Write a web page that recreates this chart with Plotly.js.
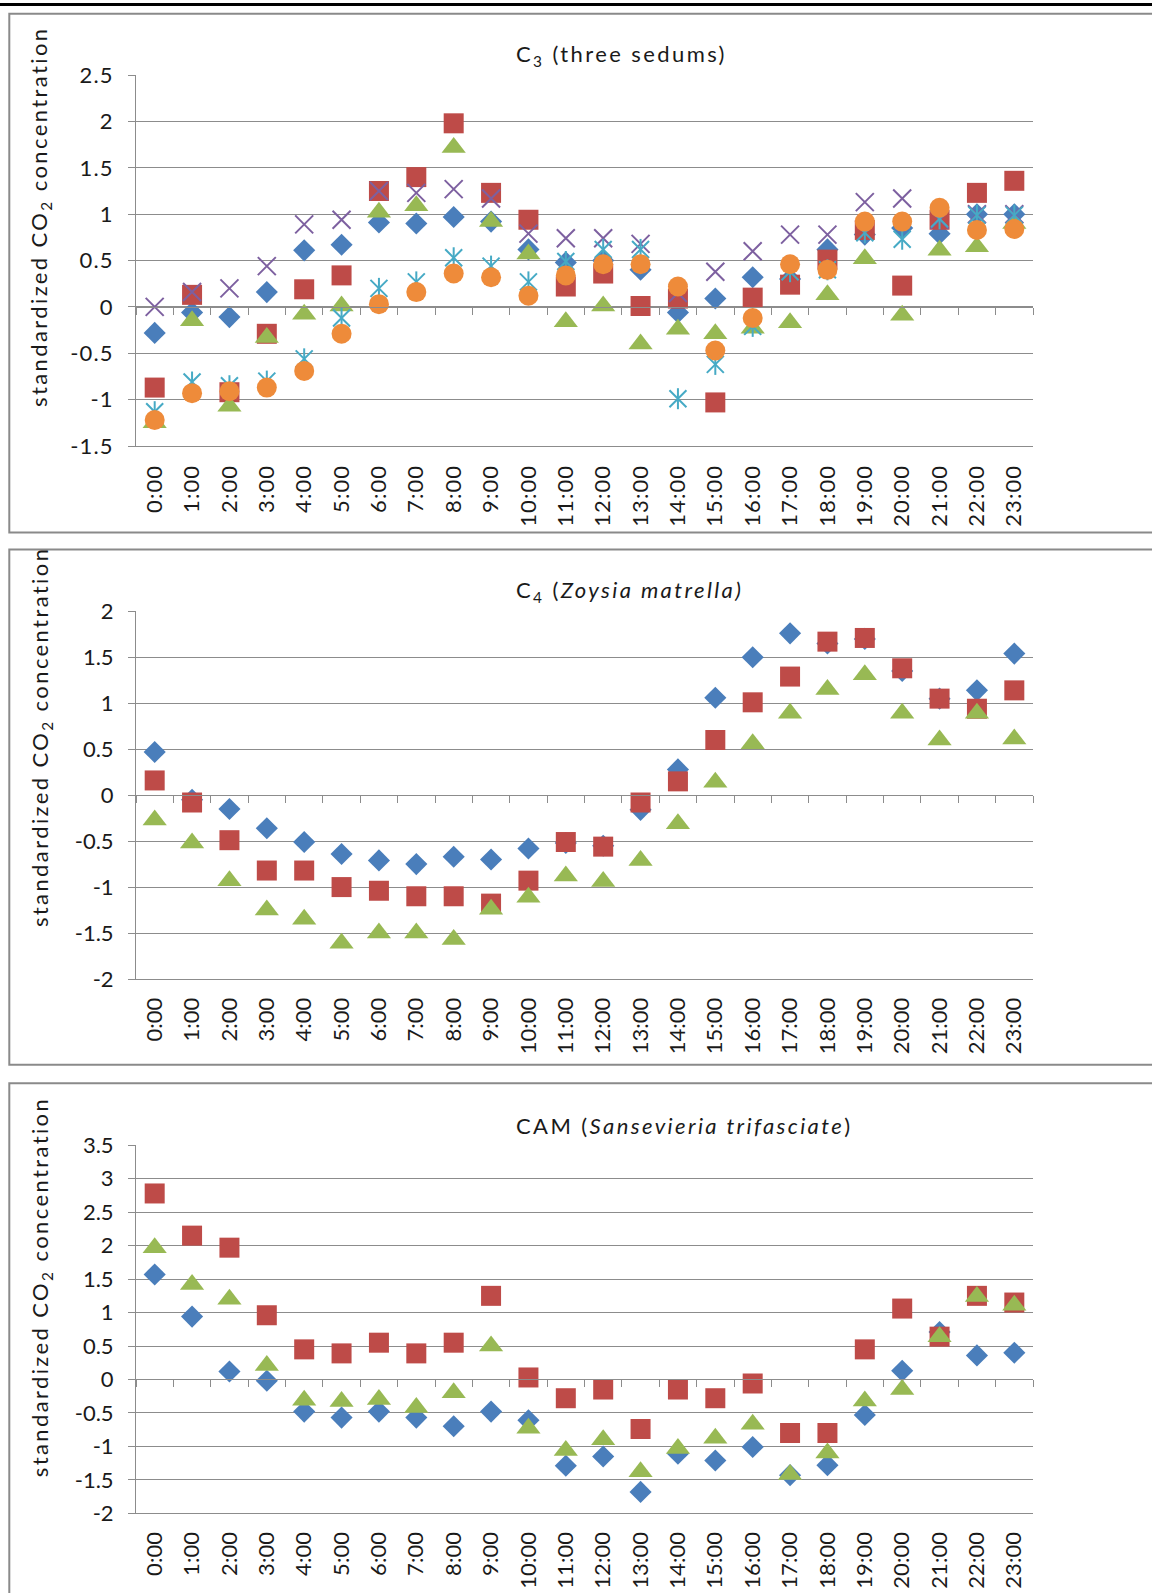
<!DOCTYPE html>
<html>
<head>
<meta charset="utf-8">
<script src="https://cdn.plot.ly/plotly-3.0.1.min.js"></script>
<style>
html,body{margin:0;padding:0;background:#ffffff;}
#chart{width:1152px;height:1593px;}
#chart g.xtick text, #chart g.ytick text{letter-spacing:1.1px;}
text.annotation-text{letter-spacing:2.4px;}
</style>
</head>
<body>
<div id="chart"></div>
<script>
// ---------- DATA ----------
const hours = ["0:00","1:00","2:00","3:00","4:00","5:00","6:00","7:00","8:00","9:00","10:00","11:00",
               "12:00","13:00","14:00","15:00","16:00","17:00","18:00","19:00","20:00","21:00","22:00","23:00"];

// C3 (three sedums) – six series
const c3Blue   = [-0.28,-0.06,-0.11,0.16,0.61,0.67,0.91,0.90,0.97,0.92,0.62,0.48,0.50,0.40,-0.06,0.09,0.32,0.30,0.62,0.78,0.85,0.79,1.00,1.00];
const c3Red    = [-0.87,0.13,-0.92,-0.29,0.19,0.34,1.25,1.40,1.98,1.23,0.94,0.22,0.36,0.01,0.09,-1.03,0.10,0.24,0.51,0.83,0.23,0.94,1.23,1.36];
const c3Green  = [-1.25,-0.15,-1.07,-0.33,-0.08,0.01,1.02,1.09,1.72,0.92,0.57,-0.16,0.01,-0.40,-0.24,-0.29,-0.23,-0.17,0.13,0.52,-0.09,0.61,0.65,0.90];
const c3Purple = [0.00,0.16,0.20,0.44,0.89,0.94,1.25,1.23,1.27,1.17,0.79,0.74,0.74,0.68,0.15,0.38,0.60,0.78,0.78,1.13,1.17,0.94,1.00,1.00];
const c3Aqua   = [-1.13,-0.81,-0.85,-0.80,-0.56,-0.12,0.20,0.27,0.53,0.44,0.27,0.49,0.62,0.62,-0.99,-0.62,-0.21,0.38,0.40,0.80,0.73,0.95,0.99,0.99];
const c3Orange = [-1.22,-0.93,-0.91,-0.87,-0.69,-0.29,0.03,0.16,0.36,0.32,0.12,0.34,0.46,0.46,0.22,-0.47,-0.12,0.46,0.40,0.92,0.92,1.07,0.83,0.84];

// C4 (Zoysia matrella) – three series
const c4Blue  = [0.47,-0.05,-0.15,-0.36,-0.51,-0.64,-0.71,-0.75,-0.67,-0.70,-0.58,-0.52,-0.55,-0.16,0.28,1.06,1.50,1.76,1.65,1.70,1.35,1.05,1.14,1.54];
const c4Red   = [0.16,-0.08,-0.49,-0.82,-0.82,-1.00,-1.04,-1.10,-1.10,-1.18,-0.93,-0.51,-0.56,-0.08,0.15,0.60,1.01,1.29,1.67,1.71,1.38,1.05,0.94,1.14];
const c4Green = [-0.27,-0.52,-0.93,-1.25,-1.35,-1.61,-1.50,-1.50,-1.57,-1.24,-1.11,-0.88,-0.94,-0.71,-0.31,0.14,0.56,0.89,1.15,1.31,0.89,0.60,0.89,0.61];

// CAM (Sansevieria trifasciate) – three series
const camBlue  = [1.57,0.94,0.12,-0.02,-0.48,-0.57,-0.48,-0.57,-0.70,-0.48,-0.61,-1.29,-1.15,-1.68,-1.11,-1.21,-1.01,-1.43,-1.28,-0.53,0.13,0.71,0.36,0.40];
const camRed   = [2.78,2.15,1.97,0.96,0.45,0.39,0.55,0.39,0.55,1.25,0.03,-0.28,-0.15,-0.74,-0.15,-0.28,-0.06,-0.80,-0.80,0.45,1.06,0.64,1.25,1.15];
const camGreen = [1.97,1.42,1.20,0.21,-0.31,-0.33,-0.30,-0.42,-0.20,0.50,-0.73,-1.06,-0.90,-1.38,-1.03,-0.88,-0.67,-1.42,-1.10,-0.32,-0.15,0.64,1.24,1.11];

// tick labels
const c3Ticks  = [-1.5,-1,-0.5,0,0.5,1,1.5,2,2.5];
const c3TickText  = ["-1.5","-1","-0.5","0","0.5","1","1.5","2","2.5"];
const c4Ticks  = [-2,-1.5,-1,-0.5,0,0.5,1,1.5,2];
const c4TickText  = ["-2","-1.5","-1","-0.5","0","0.5","1","1.5","2"];
const camTicks = [-2,-1.5,-1,-0.5,0,0.5,1,1.5,2,2.5,3,3.5];
const camTickText = ["-2","-1.5","-1","-0.5","0","0.5","1","1.5","2","2.5","3","3.5"];

const titles = [
  "C<sub>3</sub> (three sedums)",
  "C<sub>4</sub> (<i>Zoysia matrella)</i>",
  "CAM (<i>Sansevieria trifasciate</i>)"
];
const yTitle = "standardized CO<sub>2</sub> concentration";

// ---------- STYLE ----------
const W = 1152, H = 1593;
const FONT = "Lato, 'Liberation Sans', sans-serif";
const TXT = "#1a1a1a";
const GRID = "#8c8c8c";
const COL = {blue:"#4A7EBB", red:"#BE4B48", green:"#98B954", purple:"#7D60A0", aqua:"#46AAC5", orange:"#EE8B3A"};

const px = v => v / W;            // x pixel -> paper
const py = v => 1 - v / H;        // y pixel -> paper

const xDom = [px(136), px(1033)];
const panels = [
  {top:75.1,  bot:446,    range:[-1.5,2.5], ticks:c3Ticks,  text:c3TickText,  title:titles[0], titleY:55,    yTitleY:217.4, frame:[13.8,532.5]},
  {top:611.3, bot:979,    range:[-2,2],     ticks:c4Ticks,  text:c4TickText,  title:titles[1], titleY:591.2, yTitleY:737.5, frame:[549.6,1064.7]},
  {top:1145.3,bot:1513.3, range:[-2,3.5],   ticks:camTicks, text:camTickText, title:titles[2], titleY:1125.6,yTitleY:1287.7,frame:[1083.3,1700]}
];

function sc(x, y, xa, ya, color, symbol, size, open) {
  const m = open
    ? {symbol:symbol, size:size, color:color, line:{color:color, width:2}}
    : {symbol:symbol, size:size, color:color, line:{width:0}};
  return {type:"scatter", mode:"markers", x:x, y:y, xaxis:xa, yaxis:ya,
          marker:m, showlegend:false, hoverinfo:"x+y", cliponaxis:false};
}

const traces = [
  sc(hours, c3Blue,   "x", "y", COL.blue,   "diamond", 17),
  sc(hours, c3Red,    "x", "y", COL.red,    "square", 20),
  sc(hours, c3Green,  "x", "y", COL.green,  "triangle-up", 21),
  sc(hours, c3Purple, "x", "y", COL.purple, "x-thin-open", 18, true),
  sc(hours, c3Aqua,   "x", "y", COL.aqua,   "x-thin-open", 17, true),
  sc(hours, c3Aqua,   "x", "y", COL.aqua,   "line-ns-open", 15, true),
  sc(hours, c3Orange, "x", "y", COL.orange, "circle", 20),

  sc(hours, c4Blue,  "x2", "y2", COL.blue,  "diamond", 17),
  sc(hours, c4Red,   "x2", "y2", COL.red,   "square", 20),
  sc(hours, c4Green, "x2", "y2", COL.green, "triangle-up", 21),

  sc(hours, camBlue,  "x3", "y3", COL.blue,  "diamond", 17),
  sc(hours, camRed,   "x3", "y3", COL.red,   "square", 20),
  sc(hours, camGreen, "x3", "y3", COL.green, "triangle-up", 21)
];

// boundary positions (category index units) for the tick marks on the zero line
const boundaries = hours.map((h, i) => i - 0.5).concat([hours.length - 0.5]);

const layout = {
  width: W, height: H,
  margin: {l:0, r:0, t:0, b:0, pad:0},
  paper_bgcolor: "#ffffff", plot_bgcolor: "#ffffff",
  font: {family: FONT, size: 22, color: TXT},
  showlegend: false,
  annotations: [],
  shapes: [
    {type:"line", xref:"paper", yref:"paper", x0:0, x1:1, y0:py(4.6), y1:py(4.6),
     line:{color:"#000000", width:3}}
  ]
};

panels.forEach((p, k) => {
  const n = k === 0 ? "" : String(k + 1);
  const yDom = [py(p.bot), py(p.top)];
  layout["xaxis" + n] = {
    domain: xDom, anchor: "y" + n, type: "category",
    range: [-0.5, hours.length - 0.5],
    categoryorder: "array", categoryarray: hours,
    tickmode: "array", tickvals: hours, ticktext: hours,
    tickangle: -90, ticks: "", ticklabelstandoff: 9,
    showgrid: false, zeroline: false,
    showline: true, linecolor: GRID, linewidth: 1,
    tickfont: {family: FONT, size: 22, color: TXT}, fixedrange: true
  };
  layout["yaxis" + n] = {
    domain: yDom, anchor: "x" + n, range: p.range,
    tickmode: "array", tickvals: p.ticks, ticktext: p.text,
    ticks: "outside", ticklen: 7, tickcolor: GRID, tickwidth: 1,
    ticklabelstandoff: 10,
    showgrid: true, gridcolor: GRID, gridwidth: 1,
    zeroline: false, showline: true, linecolor: GRID, linewidth: 1,
    tickfont: {family: FONT, size: 22, color: TXT}, fixedrange: true
  };
  // zero line with category tick marks (free overlaying axis)
  const zeroFrac = yDom[0] + (0 - p.range[0]) / (p.range[1] - p.range[0]) * (yDom[1] - yDom[0]);
  const zn = String(k + 4);
  layout["xaxis" + zn] = {
    domain: xDom, overlaying: "x" + n, anchor: "free", position: zeroFrac, side: "bottom",
    type: "linear", range: [-0.5, hours.length - 0.5],
    tickmode: "array", tickvals: boundaries, ticks: "outside", ticklen: 7,
    tickcolor: GRID, tickwidth: 1, showticklabels: false,
    showgrid: false, zeroline: false, showline: true, linecolor: GRID, linewidth: 1,
    fixedrange: true
  };
  traces.push({type:"scatter", mode:"markers", x:[null], y:[null], xaxis:"x" + zn, yaxis:"y" + n,
               showlegend:false, hoverinfo:"skip"});

  layout.annotations.push({
    text: p.title, xref:"paper", yref:"paper", x: px(514), y: py(p.titleY),
    xanchor:"left", yanchor:"middle", showarrow:false,
    font:{family: FONT, size: 22, color: TXT}
  });
  layout.annotations.push({
    text: yTitle, xref:"paper", yref:"paper", x: px(40.6), y: py(p.yTitleY),
    xanchor:"center", yanchor:"middle", textangle:-90, showarrow:false,
    font:{family: FONT, size: 22, color: TXT}
  });
  layout.shapes.push({
    type:"rect", xref:"paper", yref:"paper",
    x0: px(9.3), x1: 1.3, y0: py(p.frame[1]), y1: py(p.frame[0]),
    line:{color:"#8a8a8a", width:2}, fillcolor:"rgba(0,0,0,0)", layer:"below"
  });
});

Plotly.newPlot("chart", traces, layout, {staticPlot: true, displayModeBar: false});
</script>
</body>
</html>
